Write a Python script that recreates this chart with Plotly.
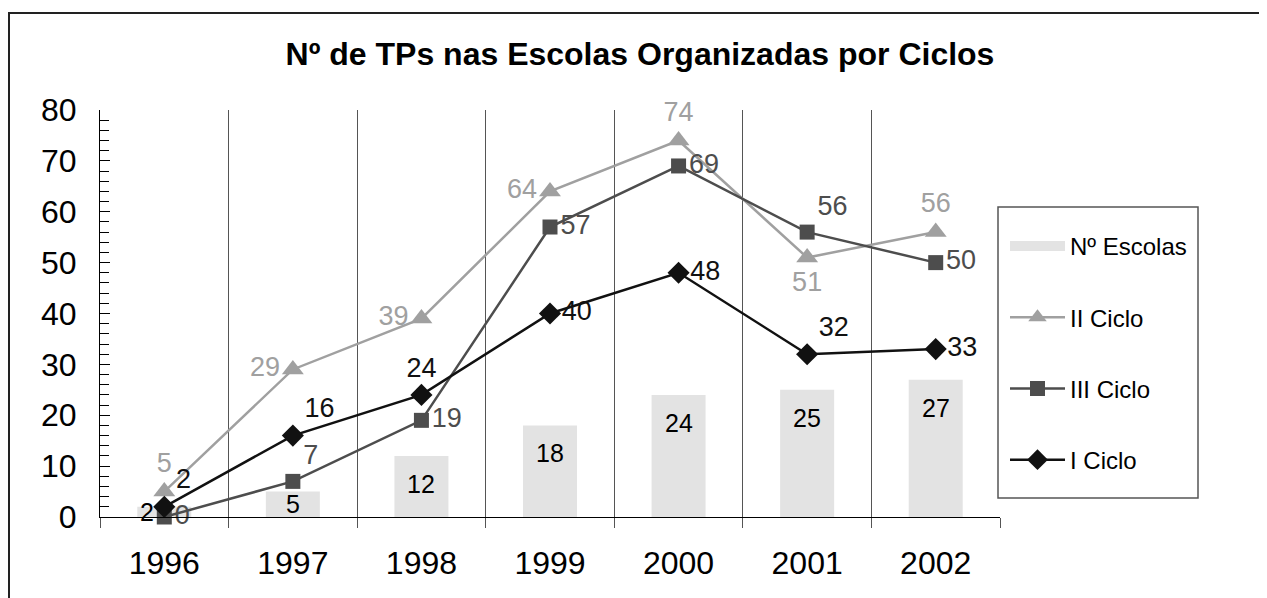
import plotly.graph_objects as go

years = ["1996", "1997", "1998", "1999", "2000", "2001", "2002"]
n_escolas = [2, 5, 12, 18, 24, 25, 27]
ii_ciclo = [5, 29, 39, 64, 74, 51, 56]
iii_ciclo = [0, 7, 19, 57, 69, 56, 50]
i_ciclo = [2, 16, 24, 40, 48, 32, 33]

FONT = "Liberation Sans, Arial, sans-serif"

pos_ii = ["top center", "middle left", "middle left", "middle left", "top center", "bottom center", "top center"]
pos_iii = ["middle right", "top right", "middle right", "middle right", "middle right", "top right", "middle right"]
pos_i = ["top right", "top right", "top center", "middle right", "middle right", "top right", "middle right"]

# page body has an 8px margin: plot area should sit at page x 100..1000, y 110..517
OFF = 8
L, T = 100 - OFF, 110 - OFF
PW, PH = 900, 407

fig = go.Figure()

fig.add_trace(go.Bar(
    x=years, y=n_escolas, name="Nº Escolas",
    marker=dict(color="#e3e3e3", line=dict(width=0)),
    width=0.42, showlegend=False, legendgroup="a",
))
# legend stand-in for the bar series (wide rectangle swatch)
fig.add_trace(go.Scatter(
    x=[None], y=[None], name="Nº Escolas", mode="lines",
    line=dict(color="#e3e3e3", width=16), legendgroup="a",
))

fig.add_trace(go.Scatter(
    x=years, y=ii_ciclo, name="II Ciclo", mode="lines+markers+text",
    line=dict(color="#a0a0a0", width=2.5),
    marker=dict(symbol="triangle-up", size=19, color="#a0a0a0"),
    text=[str(v) for v in ii_ciclo], textposition=pos_ii,
    textfont=dict(family=FONT, size=27, color="#a0a0a0"),
    legendgroup="b", cliponaxis=False,
))
fig.add_trace(go.Scatter(
    x=years, y=iii_ciclo, name="III Ciclo", mode="lines+markers+text",
    line=dict(color="#4d4d4d", width=2.5),
    marker=dict(symbol="square", size=15, color="#4d4d4d"),
    text=[str(v) for v in iii_ciclo], textposition=pos_iii,
    textfont=dict(family=FONT, size=27, color="#4d4d4d"),
    legendgroup="c", cliponaxis=False,
))
fig.add_trace(go.Scatter(
    x=years, y=i_ciclo, name="I Ciclo", mode="lines+markers+text",
    line=dict(color="#111111", width=2.5),
    marker=dict(symbol="diamond", size=17, color="#111111"),
    text=[str(v) for v in i_ciclo], textposition=pos_i,
    textfont=dict(family=FONT, size=27, color="#111111"),
    legendgroup="d", cliponaxis=False,
))

# bar value labels
annots = []
for i, v in enumerate(n_escolas):
    if v >= 10:
        annots.append(dict(x=i, y=v, yshift=-28, text=str(v), showarrow=False,
                           font=dict(family=FONT, size=25, color="#000")))
    else:
        annots.append(dict(x=i, y=v / 2, text=str(v), showarrow=False,
                           xshift=-17 if i == 0 else 0,
                           font=dict(family=FONT, size=25, color="#000")))

def px(xp):
    return (xp - 100) / PW

def py(yp):
    return (517 - yp) / PH

shapes = [
    # outer chart border
    dict(type="rect", xref="paper", yref="paper",
         x0=px(9), x1=1.4, y0=-0.5, y1=py(13),
         line=dict(color="#222", width=2), layer="below"),
    # hide the grid line at the right edge of the plot area
    dict(type="line", xref="x", yref="y", x0=6.5, x1=6.5, y0=80.5, y1=0.4,
         line=dict(color="white", width=3), layer="above"),
    # legend box
    dict(type="rect", xref="paper", yref="paper",
         x0=px(998), x1=px(1198), y0=py(498), y1=py(207),
         line=dict(color="#555", width=1.5), fillcolor="white", layer="above"),
]

fig.update_layout(
    width=1267, height=598,
    margin=dict(l=L, r=1267 - L - PW, t=T, b=598 - T - PH, autoexpand=False),
    paper_bgcolor="white", plot_bgcolor="white",
    font=dict(family=FONT, color="#000"),
    title=dict(text="<b>Nº de TPs nas Escolas Organizadas por Ciclos</b>",
               x=(640 - OFF) / 1267, xanchor="center", y=1 - (54 - OFF) / 598, yanchor="middle",
               font=dict(family=FONT, size=32, color="#000")),
    showlegend=True,
    legend=dict(x=px(1005), y=py(224), xanchor="left", yanchor="top",
                borderwidth=0, bgcolor="rgba(0,0,0,0)",
                font=dict(family=FONT, size=24, color="#000"),
                tracegroupgap=37, itemwidth=55, traceorder="grouped"),
    annotations=annots,
    shapes=shapes,
)

fig.update_xaxes(
    type="category", range=[-0.5, 6.5], tickson="boundaries", ticks="outside", ticklen=10,
    tickcolor="#555", showgrid=True, gridcolor="#555", gridwidth=1,
    showline=True, linecolor="#000", linewidth=1,
    tickfont=dict(family=FONT, size=32, color="#000"), tickangle=0,
    ticklabelstandoff=18,
)
fig.update_yaxes(
    range=[0, 80], dtick=10, ticks="inside", ticklen=10, tickcolor="#000",
    showgrid=False, showline=True, linecolor="#000", linewidth=1,
    minor=dict(dtick=2, ticks="inside", ticklen=9, tickcolor="#000", showgrid=False),
    tickfont=dict(family=FONT, size=32, color="#000"),
    ticklabelstandoff=16, zeroline=False,
)

fig.write_html("out.html")
